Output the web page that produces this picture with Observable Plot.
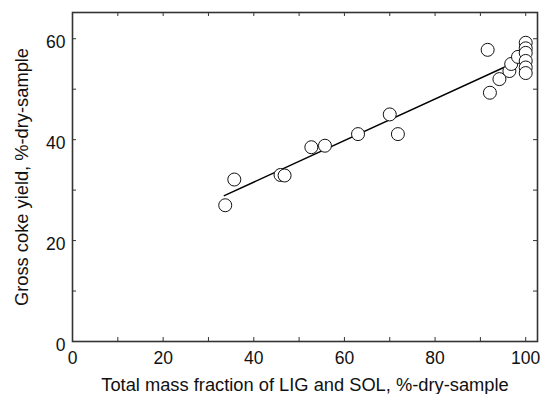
<!DOCTYPE html>
<html>
<head>
<meta charset="utf-8">
<script src="https://cdn.jsdelivr.net/npm/d3@7"></script>
<script src="https://cdn.jsdelivr.net/npm/@observablehq/plot@0.6"></script>
<style>
  html, body { margin: 0; padding: 0; background: #fff; }
  #chart { width: 542px; height: 394px; }
</style>
</head>
<body>
<div id="chart"></div>
<script>
// Measured points: total mass fraction of LIG and SOL vs gross coke yield
const ligSol = [33.7, 35.7, 45.9, 46.8, 52.7, 55.7, 63.0, 70.0, 71.8, 91.6, 92.1, 94.2, 96.4, 96.8, 98.3, 100, 100, 100, 100, 100, 100];
const cokeYield = [27.0, 32.1, 33.0, 32.9, 38.5, 38.8, 41.1, 45.0, 41.1, 57.8, 49.3, 52.0, 53.6, 55.0, 56.4, 59.2, 58.1, 57.2, 55.6, 54.3, 53.2];

// Fitted line end points
const fitX = [33.5, 100];
const fitY = [28.9, 56.3];

// Ticks
const xLabelTicks = [0, 20, 40, 60, 80, 100];
const yLabelTicks = [0, 20, 40, 60];
const xMarkTicks = [10, 20, 30, 40, 50, 60, 70, 80, 90, 100];
const yMarkTicks = [10, 20, 30, 40, 50, 60];

const xTitle = "Total mass fraction of LIG and SOL, %-dry-sample";
const yTitle = "Gross coke yield, %-dry-sample";

const points = ligSol.map((x, i) => ({x, y: cokeYield[i]}));
const fit = fitX.map((x, i) => ({x, y: fitY[i]}));

const W = 542, H = 394;
const mL = 72, mR = 5, mT = 12, mB = 53;
const pw = W - mL - mR, ph = H - mT - mB;
const tk = 4;

const chart = Plot.plot({
  width: W,
  height: H,
  marginLeft: mL,
  marginRight: mR,
  marginTop: mT,
  marginBottom: mB,
  style: {fontFamily: "'Liberation Sans', Arial, sans-serif", background: "#fff", color: "#000", overflow: "visible"},
  x: {domain: [0, 102.6]},
  y: {domain: [0, 65.2]},
  marks: [
    // inward ticks on all four sides
    Plot.ruleX(xMarkTicks, {insetTop: ph - tk, stroke: "#333", strokeWidth: 1}),
    Plot.ruleX(xMarkTicks, {insetBottom: ph - tk, stroke: "#333", strokeWidth: 1}),
    Plot.ruleY(yMarkTicks, {insetRight: pw - tk, stroke: "#333", strokeWidth: 1}),
    Plot.ruleY(yMarkTicks, {insetLeft: pw - tk, stroke: "#333", strokeWidth: 1}),
    Plot.axisX(xLabelTicks, {tickSize: 0, tickPadding: 10, fontSize: 17.5, label: null, fill: "#111"}),
    Plot.axisY(yLabelTicks, {tickSize: 0, tickPadding: 7, dy: 3.5, fontSize: 17.5, label: null, fill: "#111"}),
    Plot.text([xTitle], {frameAnchor: "bottom", lineAnchor: "middle", dy: 44, fontSize: 18.3, fill: "#111"}),
    Plot.text([yTitle], {frameAnchor: "left", textAnchor: "middle", lineAnchor: "middle", dx: -50, rotate: -90, fontSize: 18.3, fill: "#111"}),
    Plot.line(fit, {x: "x", y: "y", stroke: "#000", strokeWidth: 1.4}),
    Plot.dot(points, {x: "x", y: "y", r: 6.5, fill: "#fff", stroke: "#111", strokeWidth: 1}),
    Plot.frame({stroke: "#333", strokeWidth: 1.6})
  ]
});
document.getElementById("chart").appendChild(chart);
</script>
</body>
</html>
